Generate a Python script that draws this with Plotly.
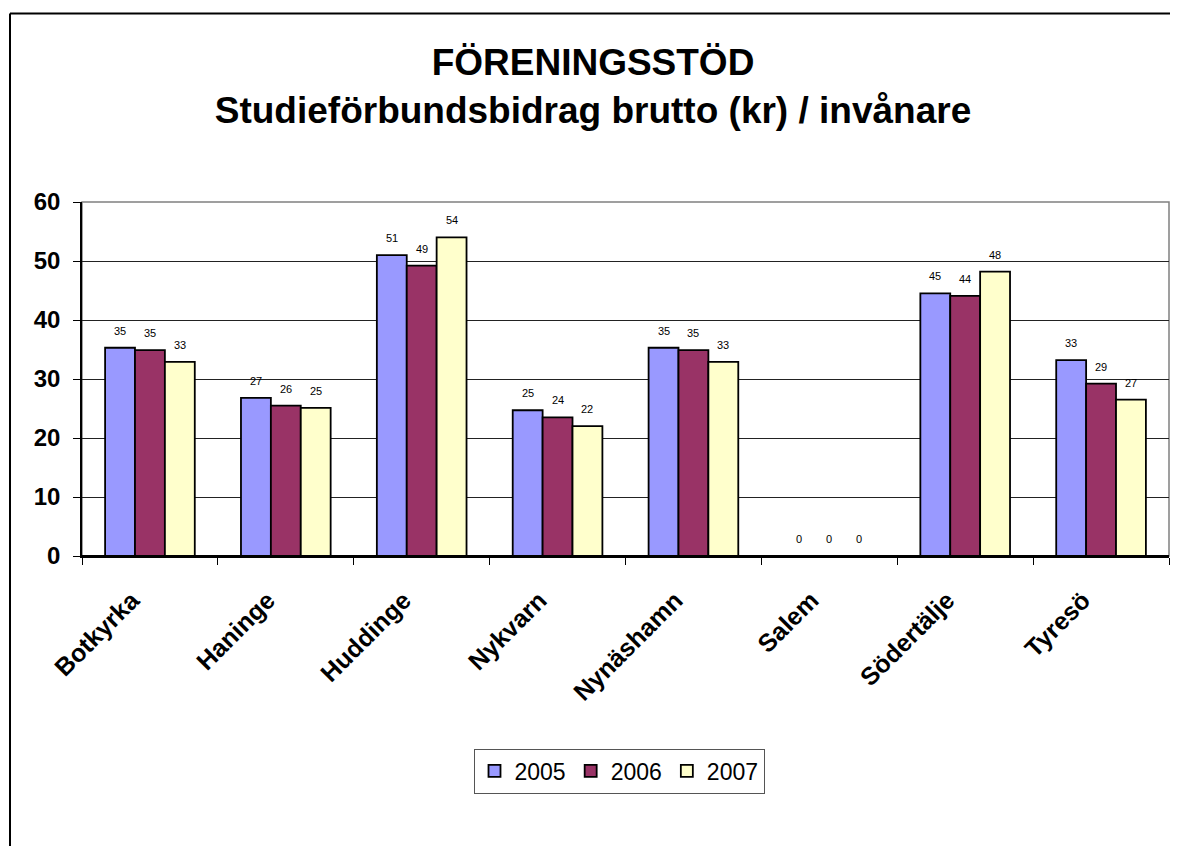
import plotly.graph_objects as go

categories = ["Botkyrka", "Haninge", "Huddinge", "Nykvarn", "Nynäshamn", "Salem", "Södertälje", "Tyresö"]
years = ["2005", "2006", "2007"]
v2005 = [35.3, 26.8, 51.0, 24.7, 35.3, 0, 44.5, 33.2]
v2006 = [34.9, 25.5, 49.2, 23.5, 34.9, 0, 44.1, 29.2]
v2007 = [32.9, 25.1, 54.0, 22.0, 32.9, 0, 48.2, 26.5]
colors = ["#9999FF", "#993366", "#FFFFCC"]
yticks = [0, 10, 20, 30, 40, 50, 60]

# page has an 8px body margin, so figure coords = screen coords - 8
OFF = 8
W, H = 1170, 838
ml, mr, mt, mb = 82 - OFF, 9, 202 - OFF, 290
pw = W - ml - mr
ph = H - mt - mb
bargap = 0.34
FONT = "Arial, Liberation Sans"

fig = go.Figure()
series = [v2005, v2006, v2007]
for name, vals, col in zip(years, series, colors):
    fig.add_trace(go.Bar(
        x=categories, y=vals, name=name,
        marker=dict(color=col, line=dict(color="black", width=1.8)),
    ))

def label(v):
    return str(int(v + 0.5))

cat_px = pw / len(categories)
bar_px = cat_px * (1 - bargap) / 3
annotations = []
for i, vals in enumerate(series):
    for c, v in zip(categories, vals):
        annotations.append(dict(
            x=c, y=v, xref="x", yref="y", text=label(v),
            showarrow=False, xshift=(i - 1) * bar_px, yshift=17,
            font=dict(family=FONT, size=11, color="black"),
        ))

def px_x(p):
    return (p - OFF - ml) / pw

def px_y(p):
    return (H - mb - (p - OFF)) / ph

shapes = [
    dict(type="rect", xref="paper", yref="paper", x0=0, x1=1, y0=0, y1=1,
         line=dict(color="#808080", width=1.5), layer="below"),
    dict(type="line", xref="paper", yref="paper", x0=px_x(10), x1=px_x(W + 20), y0=px_y(13.5), y1=px_y(13.5),
         line=dict(color="black", width=2)),
    dict(type="line", xref="paper", yref="paper", x0=px_x(10), x1=px_x(10), y0=px_y(13.5), y1=px_y(H + 20),
         line=dict(color="black", width=2)),
]

fig.update_layout(
    width=W, height=H,
    margin=dict(l=ml, r=mr, t=mt, b=mb, autoexpand=False),
    paper_bgcolor="white", plot_bgcolor="white",
    barmode="group", bargap=bargap, bargroupgap=0,
    font=dict(family=FONT, color="black"),
    title=dict(
        text="<b>FÖRENINGSSTÖD<br>Studieförbundsbidrag brutto (kr) / invånare</b>",
        x=0.5, xref="container", xanchor="center",
        y=1 - 67 / H, yref="container", yanchor="middle",
        font=dict(size=37, family=FONT, color="black"),
    ),
    xaxis=dict(
        type="category", showgrid=False, showline=True, linecolor="black", linewidth=1.5,
        ticks="outside", tickson="boundaries", ticklen=7, tickcolor="black", tickwidth=1.2,
        tickangle=-45, ticklabelstandoff=18, ticklabelshift=-18,
        tickfont=dict(size=25, family=FONT, color="black", weight="bold"),
        zeroline=False,
    ),
    yaxis=dict(
        range=[0, 60], tickvals=yticks, showgrid=True, gridcolor="#222222", gridwidth=1,
        showline=True, linecolor="black", linewidth=1.5, ticks="outside", ticklen=7,
        tickcolor="black", tickwidth=1.2, ticklabelstandoff=8,
        tickfont=dict(size=24, family=FONT, color="black", weight="bold"),
        zeroline=True, zerolinecolor="black", zerolinewidth=1.5,
    ),
    legend=dict(
        orientation="h", x=px_x(619), xanchor="center", y=px_y(771), yanchor="middle",
        bordercolor="#555555", borderwidth=1, bgcolor="white",
        font=dict(size=23, family=FONT, color="black"),
        itemwidth=30, tracegroupgap=0,
    ),
    annotations=annotations,
    shapes=shapes,
)

fig.write_html("out.html")
